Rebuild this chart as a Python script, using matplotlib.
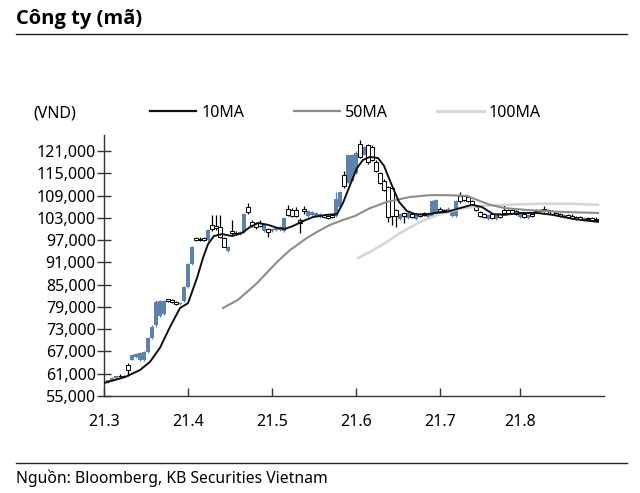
import numpy as np
import matplotlib
matplotlib.use("Agg")
import matplotlib.pyplot as plt
from matplotlib.lines import Line2D
from matplotlib.ticker import FuncFormatter

plt.rcParams['font.family'] = ['Noto Sans', 'DejaVu Sans']

# =============================================================================
# DATA (prices in thousand VND, x = trading day index)
# =============================================================================

TITLE = "Công ty (mã)"
SOURCE = "Nguồn: Bloomberg, KB Securities Vietnam"
UNIT = "(VND)"

MONTH_DAYS = [0, 21, 42, 63, 84, 104]
MONTH_LABELS = ['21.3', '21.4', '21.5', '21.6', '21.7', '21.8']

opens = [
    58.5, 58.8, 59.2, 59.8, 60.5, 60.5, 63.3, 64.8, 65.5, 64.6,
    64.6, 66.8, 70.5, 74.0, 76.5, 77.0, 81.0, 80.8, 80.2, 79.8,
    80.5, 84.4, 90.5, 97.5, 97.3, 97.5, 97.0, 101.0, 100.8, 100.5,
    97.5, 94.0, 99.5, 99.0, 98.5, 99.2, 106.0, 102.0, 101.5, 101.5,
    99.5, 100.0, 99.5, 99.8, 99.8, 99.5, 105.5, 105.2, 105.0, 102.4,
    105.5, 103.5, 103.8, 103.5, 103.3, 103.8, 103.5, 103.8, 103.5, 106.0,
    114.5, 112.5, 113.0, 115.0, 123.0, 120.0, 122.5, 122.0, 118.0, 115.0,
    113.0, 111.3, 111.0, 105.0, 102.8, 104.2, 103.0, 104.0, 102.8, 104.0,
    104.3, 103.2, 103.5, 104.0, 105.5, 105.2, 104.5, 103.5, 103.5, 109.0,
    108.8, 108.5, 107.5, 106.0, 104.5, 104.0, 102.8, 104.0, 102.8, 104.0,
    105.2, 105.0, 105.0, 104.8, 103.2, 104.0, 103.0, 104.0, 105.2, 105.2,
    105.3, 105.2, 104.8, 104.3, 104.0, 103.2, 103.8, 103.6, 103.3, 103.2,
    102.4, 103.0, 102.9, 102.8,
]
closes = [
    58.8, 59.2, 59.8, 60.3, 60.3, 60.4, 62.0, 66.0, 66.3, 66.6,
    66.8, 70.5, 73.6, 80.4, 80.6, 80.5, 80.6, 80.2, 79.8, 80.0,
    84.4, 90.5, 95.0, 97.0, 97.0, 97.0, 99.7, 100.0, 100.2, 97.8,
    95.2, 95.0, 99.0, 98.8, 99.2, 104.0, 104.5, 101.0, 100.5, 100.8,
    101.0, 99.3, 100.0, 100.3, 100.5, 103.0, 103.8, 103.6, 103.5, 101.5,
    104.8, 104.8, 104.5, 104.2, 104.0, 103.2, 103.0, 103.3, 108.0, 110.0,
    111.5, 120.0, 120.0, 120.5, 119.5, 122.0, 118.0, 118.5, 115.5, 112.5,
    110.5, 103.2, 103.5, 103.5, 104.0, 103.5, 104.3, 103.2, 104.0, 103.5,
    103.8, 104.2, 107.5, 107.8, 104.8, 104.8, 105.5, 105.0, 107.5, 107.5,
    107.8, 107.5, 106.0, 105.0, 103.5, 103.2, 103.8, 103.0, 103.8, 103.2,
    104.2, 104.2, 104.3, 104.0, 104.0, 103.3, 103.8, 103.5, 104.8, 104.8,
    104.9, 104.7, 104.0, 103.8, 103.6, 103.8, 103.3, 103.0, 102.8, 102.8,
    102.9, 102.6, 102.5, 102.4,
]
highs = [
    59.0, 59.4, 60.0, 60.5, 60.8, 60.7, 64.0, 66.3, 66.6, 66.9,
    67.0, 70.8, 74.0, 80.8, 80.9, 80.8, 81.2, 81.0, 80.5, 80.3,
    84.6, 90.8, 95.5, 97.9, 97.8, 97.9, 100.0, 103.8, 103.8, 103.8,
    97.8, 95.4, 102.4, 99.4, 99.5, 104.3, 107.0, 102.5, 101.8, 102.5,
    101.3, 100.3, 100.3, 100.6, 100.8, 103.3, 106.5, 105.6, 105.8, 103.0,
    106.2, 105.1, 104.8, 104.5, 104.3, 104.1, 103.8, 104.1, 110.0, 110.3,
    115.5, 120.3, 120.3, 121.0, 124.0, 122.3, 123.0, 122.5, 118.5, 115.4,
    113.5, 111.5, 111.3, 105.5, 104.3, 104.6, 104.6, 104.4, 104.3, 104.3,
    104.6, 104.5, 107.8, 108.0, 105.8, 105.5, 105.8, 105.3, 107.8, 110.0,
    109.2, 108.8, 107.8, 106.3, 104.8, 104.3, 104.1, 104.3, 104.1, 104.3,
    106.5, 105.3, 105.3, 105.1, 104.3, 104.3, 104.1, 104.3, 105.5, 105.5,
    106.2, 105.5, 105.1, 104.6, 104.3, 104.1, 104.1, 103.9, 103.6, 103.5,
    103.2, 103.3, 103.2, 103.1,
]
lows = [
    58.3, 58.6, 59.0, 59.6, 60.0, 60.1, 60.5, 64.6, 65.2, 64.4,
    64.4, 66.6, 70.3, 73.5, 76.3, 76.8, 80.3, 80.0, 79.5, 79.6,
    80.3, 84.2, 90.3, 96.7, 96.7, 96.7, 96.8, 99.5, 99.8, 97.5,
    95.0, 93.8, 98.0, 98.4, 98.3, 99.0, 104.0, 100.5, 100.0, 100.4,
    99.2, 97.8, 99.3, 99.5, 99.5, 99.3, 103.5, 103.3, 103.2, 99.0,
    104.0, 103.3, 103.5, 103.3, 103.0, 102.9, 102.7, 103.0, 103.3, 105.8,
    111.0, 112.3, 112.8, 114.8, 119.0, 119.8, 117.5, 118.2, 115.2, 112.2,
    110.2, 102.0, 101.0, 100.5, 102.5, 101.5, 102.7, 102.9, 102.5, 103.2,
    103.5, 103.0, 103.3, 103.8, 104.5, 104.5, 104.3, 103.3, 103.3, 107.0,
    107.5, 107.2, 105.8, 104.7, 103.2, 102.9, 102.5, 102.7, 102.5, 102.9,
    104.0, 103.9, 104.0, 103.7, 103.0, 103.0, 102.8, 103.2, 104.5, 104.5,
    104.6, 104.4, 103.7, 103.5, 103.3, 103.0, 103.0, 102.7, 102.5, 102.5,
    102.2, 102.3, 102.2, 102.1,
]

# moving averages (day, value)
ma10_days = [0, 5.25, 9, 11.5, 14, 16.5, 19, 21, 23.25, 24.75, 26, 27.5, 29.5,
             32, 34.5, 36.5, 38.5, 41, 43.25, 45.25, 47.25, 49.75, 52.25, 55.75,
             58.25, 59.75, 61.5, 63.25, 64.75, 66.5, 68.5, 70, 71, 72.25, 73.75,
             75.75, 77.75, 80.25, 82.75, 85.75, 89, 92, 94.5, 97.25, 100.25,
             104, 108.25, 112.25, 117.25, 123.5]
ma10_vals = [58.5, 60.1, 62.0, 64.2, 68.0, 73.6, 78.7, 80.0, 86.8, 92.2, 95.9,
             98.1, 98.6, 98.1, 98.9, 100.5, 101.6, 101.1, 100.3, 100.0, 100.8,
             102.1, 103.2, 103.8, 104.0, 107.0, 111.8, 116.4, 118.6, 119.4,
             119.1, 117.0, 114.3, 111.0, 107.3, 104.8, 104.0, 103.8, 104.3,
             104.6, 105.6, 106.5, 105.9, 104.0, 103.8, 104.3, 104.3, 103.8,
             102.7, 101.9]

ma50_days = [29.75, 33.5, 38.25, 43.25, 46.5, 50.75, 53.25, 56.5, 59.75, 62.75,
             66.5, 70.75, 76.5, 81.5, 85.75, 90.75, 94, 96.5, 100.25, 105.75,
             114, 123.5]
ma50_vals = [78.7, 80.9, 85.4, 91.1, 94.3, 97.6, 99.2, 101.1, 102.4, 103.5,
             105.6, 107.3, 108.6, 109.1, 109.1, 108.9, 107.5, 106.5, 105.6,
             105.1, 104.6, 104.3]

ma100_days = [63.5, 66.5, 70.25, 74, 79, 84, 89, 94, 100.25, 109, 116.5, 123.5]
ma100_vals = [92.2, 93.8, 96.2, 98.9, 101.9, 104.0, 105.4, 106.2, 106.5, 106.8,
              106.8, 106.5]

# =============================================================================
# STYLE
# =============================================================================

UP_COLOR = '#5f82ad'
MA10_COLOR = '#111111'
MA50_COLOR = '#8c8c8c'
MA100_COLOR = '#d6d6d6'
AXIS_COLOR = '#333333'
FS = 11.5

fig = plt.figure(figsize=(6.4, 4.93), dpi=100)
ax = fig.add_axes([104 / 640, 97 / 493, 500 / 640, 261 / 493])

o = np.array(opens) * 1000
c = np.array(closes) * 1000
h = np.array(highs) * 1000
lo = np.array(lows) * 1000
days = np.arange(len(o))
up = c >= o

# wicks
ax.vlines(days[up], lo[up], h[up], color=UP_COLOR, linewidth=0.9, zorder=2)
ax.vlines(days[~up], lo[~up], h[~up], color='black', linewidth=0.9, zorder=2)
# bodies
ax.bar(days[up], (c - o)[up], bottom=o[up], width=0.95, color=UP_COLOR,
       linewidth=0, zorder=3)
ax.bar(days[~up], (o - c)[~up], bottom=c[~up], width=0.85, facecolor='white',
       edgecolor='black', linewidth=0.7, zorder=3)

# moving averages
ax.plot(ma100_days, np.array(ma100_vals) * 1000, color=MA100_COLOR, lw=1.9, zorder=4)
ax.plot(ma50_days, np.array(ma50_vals) * 1000, color=MA50_COLOR, lw=1.5, zorder=4)
ax.plot(ma10_days, np.array(ma10_vals) * 1000, color=MA10_COLOR, lw=1.4, zorder=5)

# axes
ax.set_xlim(0, 125)
ax.set_ylim(55000, 125300)
ax.set_yticks(np.arange(55000, 121001, 6000))
ax.yaxis.set_major_formatter(FuncFormatter(lambda v, p: f'{v:,.0f}'))
ax.set_xticks(MONTH_DAYS)
ax.set_xticklabels(MONTH_LABELS)

for side in ['top', 'right']:
    ax.spines[side].set_visible(False)
for side in ['left', 'bottom']:
    ax.spines[side].set_color(AXIS_COLOR)
    ax.spines[side].set_linewidth(1.0)

ax.tick_params(axis='y', direction='inout', length=10, width=1.0,
               color=AXIS_COLOR, labelsize=FS, pad=1)
ax.tick_params(axis='x', direction='in', length=6, width=1.0,
               color=AXIS_COLOR, labelsize=FS, pad=13)

# legend row
handles = [Line2D([], [], color=MA10_COLOR, lw=1.6),
           Line2D([], [], color=MA50_COLOR, lw=1.6),
           Line2D([], [], color=MA100_COLOR, lw=2.2)]
fig.legend(handles, ['10MA', '50MA', '100MA'], loc='center left',
           bbox_to_anchor=(150 / 640, 1 - 113 / 493), ncol=3, frameon=False,
           fontsize=FS, handlelength=2.9, handletextpad=0.3, columnspacing=3.1,
           borderpad=0, borderaxespad=0)
fig.text(33 / 640, 1 - 113 / 493, UNIT, fontsize=FS, va='center', ha='left')

# title, rules and source
fig.text(16 / 640, 1 - 19 / 493, TITLE, fontsize=14.5, fontweight='bold',
         family=['Open Sans', 'DejaVu Sans'], va='center', ha='left')
fig.add_artist(Line2D([16 / 640, 627 / 640], [1 - 34 / 493, 1 - 34 / 493],
                      color='#222222', lw=1.0))
fig.add_artist(Line2D([16 / 640, 627 / 640], [1 - 463 / 493, 1 - 463 / 493],
                      color='#222222', lw=1.0))
fig.text(16 / 640, 1 - 478 / 493, SOURCE, fontsize=11.3, va='center', ha='left')

fig.savefig('out.png', dpi=100, facecolor='white')
